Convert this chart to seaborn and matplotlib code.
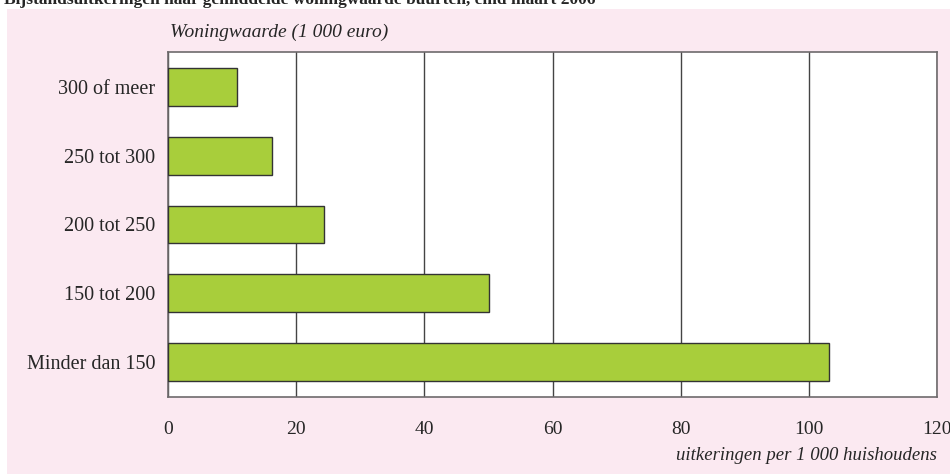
import matplotlib
matplotlib.use('Agg')
import matplotlib.pyplot as plt
from matplotlib.patches import Rectangle
import seaborn as sns
import pandas as pd

# woningwaarde-klassen (1 000 euro) en uitkeringen per 1 000 huishoudens
klassen = ['300 of meer', '250 tot 300', '200 tot 250', '150 tot 200', 'Minder dan 150']
uitkeringen = [10.8, 16.2, 24.3, 50.1, 103.2]
xticks = [0, 20, 40, 60, 80, 100, 120]

df = pd.DataFrame({'klasse': klassen, 'waarde': uitkeringen})

sns.set_style('white')
plt.rcParams['font.family'] = ['Liberation Serif', 'DejaVu Serif']

W, H = 950, 474
fig = plt.figure(figsize=(9.5, 4.74), dpi=100)
fig.patch.set_facecolor('white')

# roze achtergrondvlak
fig.patches.append(Rectangle((7 / W, 0), 1 - 7 / W, 1 - 9 / H, transform=fig.transFigure,
                             facecolor='#fbe9f1', edgecolor='none', zorder=-5))

ax = fig.add_axes([168 / W, 1 - 397 / H, (937 - 168) / W, (397 - 52) / H])
ax.set_facecolor('white')

sns.barplot(data=df, y='klasse', x='waarde', order=klassen, orient='h',
            color='#a8ce3b', edgecolor='#333333', linewidth=1.0,
            width=0.55, saturation=1, ax=ax, zorder=3)

ax.set_xlim(0, 120)
ax.set_ylim(4.51, -0.51)
ax.set_xticks(xticks)
ax.set_xticklabels([str(t) for t in xticks], fontsize=14)
ax.tick_params(axis='x', direction='out', length=5, width=1, color='#555555', pad=12)
ax.tick_params(axis='y', length=0, pad=9, labelsize=14.5)
ax.set_xlabel('')
ax.set_ylabel('')
ax.grid(axis='x', color='#444444', linewidth=1.0, zorder=1)
ax.set_axisbelow(True)
for s in ax.spines.values():
    s.set_visible(True)
    s.set_color('#6e6a6c')
    s.set_linewidth(1.2)

fig.text(170 / W, 1 - 32 / H, 'Woningwaarde (1 000 euro)', style='italic',
         fontsize=14, va='center', ha='left')
fig.text(937 / W, 1 - 456 / H, 'uitkeringen per 1 000 huishoudens', style='italic',
         fontsize=13.5, va='center', ha='right')
fig.text(4 / W, 1 - 4 / H, 'Bijstandsuitkeringen naar gemiddelde woningwaarde buurten, eind maart 2006',
         fontsize=12.5, fontweight='bold', va='baseline', ha='left')

fig.savefig('out.png', dpi=100)
